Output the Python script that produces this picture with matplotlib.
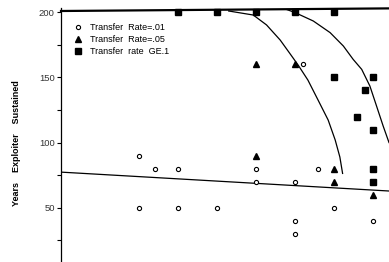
import matplotlib
matplotlib.use("Agg")
import matplotlib.pyplot as plt

# --- data ---
# Transfer Rate=.01 (open circles)
rate01_x = [2, 2.4, 3, 2, 3, 4, 5, 5, 6, 6, 6, 6.2, 6.6, 7, 8]
rate01_y = [90, 80, 80, 50, 50, 50, 80, 70, 70, 40, 30, 160, 80, 50, 40]

# Transfer Rate=.05 (filled triangles)
rate05_x = [5, 6, 5, 7, 7, 8]
rate05_y = [160, 160, 90, 80, 70, 60]

# Transfer rate GE.1 (filled squares)
ge1_x = [3, 4, 5, 6, 7, 7, 8, 7.8, 7.6, 8, 8, 8]
ge1_y = [200, 200, 200, 200, 200, 150, 150, 140, 120, 110, 80, 70]

# fitted lines
top_line_x = [0, 8.41]
top_line_y = [201, 203]
low_line_x = [0, 8.41]
low_line_y = [77.3, 62.8]

curve1_x = [4.3, 4.93, 5.27, 5.62, 5.87, 6.08, 6.33, 6.59, 6.85, 7.03, 7.15, 7.22]
curve1_y = [201, 197.9, 190.3, 178.7, 168.3, 159.5, 148, 132.7, 117.3, 102, 88.9, 76.3]

curve2_x = [5.8, 6.0, 6.47, 6.9, 7.24, 7.49, 7.71, 7.92, 8.09, 8.26, 8.41]
curve2_y = [202, 199.8, 193.3, 184.4, 174.1, 163.9, 156.2, 143.4, 128.1, 112.7, 100]

plt.rcParams["font.family"] = ["Liberation Sans", "DejaVu Sans"]

fig = plt.figure(figsize=(3.89, 2.62), dpi=100)
ax = fig.add_axes([61 / 389, 0, 1 - 61 / 389, 254 / 262])

ax.plot(top_line_x, top_line_y, color="black", lw=1.6, clip_on=False)
ax.plot(low_line_x, low_line_y, color="black", lw=0.9)
ax.plot(curve1_x, curve1_y, color="black", lw=0.9)
ax.plot(curve2_x, curve2_y, color="black", lw=0.9)

ax.plot(rate01_x, rate01_y, "o", ls="none", ms=3.0, mfc="white", mec="black",
        mew=0.8, label="Transfer  Rate=.01")
ax.plot(rate05_x, rate05_y, "^", ls="none", ms=4.8, color="black",
        label="Transfer  Rate=.05")
ax.plot(ge1_x, ge1_y, "s", ls="none", ms=4.2, color="black",
        label="Transfer  rate  GE.1")

ax.set_xlim(0, 8.41)
ax.set_ylim(8.3, 203.3)

for side in ["top", "right", "bottom"]:
    ax.spines[side].set_visible(False)
ax.spines["left"].set_linewidth(0.9)
ax.set_xticks([])
ax.set_yticks([50, 100, 150, 200])
ax.set_yticks([25, 75, 125, 175], minor=True)
ax.tick_params(axis="y", which="both", length=3, width=0.8, labelsize=6.8,
               pad=1.5, labelcolor="#333333")

ax.set_ylabel("Years    Exploiter    Sustained", fontsize=6.5,
              fontweight="bold")
ax.yaxis.set_label_coords(-0.122, 0.467)

ax.legend(loc="upper left", bbox_to_anchor=(0.018, 0.965), frameon=False,
          fontsize=6.5, handlelength=1.0, handletextpad=0.9,
          labelspacing=0.32, borderaxespad=0.3)

fig.savefig("out.png", dpi=100)
